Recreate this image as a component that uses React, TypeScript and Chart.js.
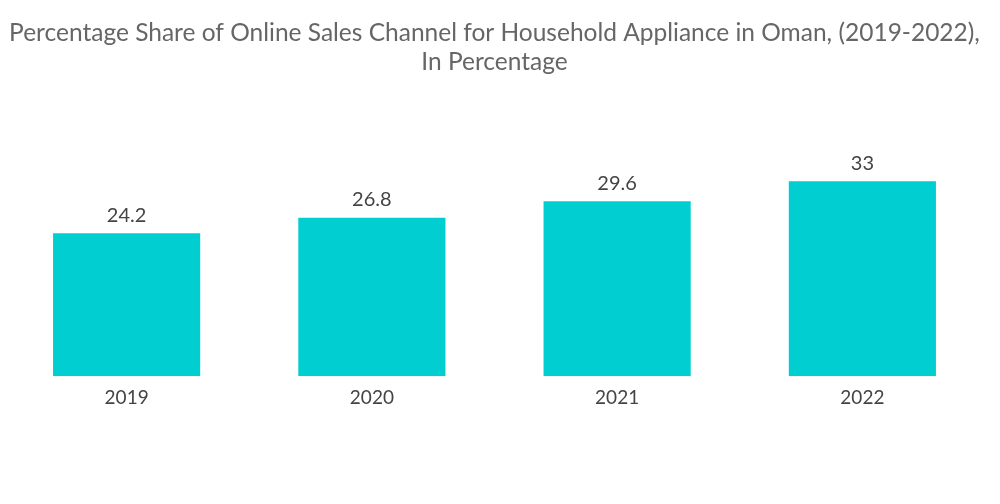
import React, { useEffect, useRef } from "react";
import { Chart, registerables } from "chart.js";

Chart.register(...registerables);

const categories = ["2019", "2020", "2021", "2022"];
const shareValues = [24.2, 26.8, 29.6, 33];
const valueLabels = ["24.2", "26.8", "29.6", "33"];
const titleLines = [
  "Percentage Share of Online Sales Channel for Household Appliance in Oman, (2019-2022),",
  "In Percentage",
];

const barLabelPlugin = {
  id: "barLabels",
  afterDatasetsDraw(chart: any) {
    const { ctx } = chart;
    const meta = chart.getDatasetMeta(0);
    ctx.save();
    ctx.font = "20px Lato";
    ctx.fillStyle = "#444444";
    ctx.textAlign = "center";
    ctx.textBaseline = "bottom";
    meta.data.forEach((bar: any, i: number) => {
      ctx.fillText(valueLabels[i], bar.x, bar.y - 8);
    });
    ctx.restore();
  },
};

export default function App() {
  const ref = useRef<HTMLCanvasElement | null>(null);
  useEffect(() => {
    if (!ref.current) return;
    const chart = new Chart(ref.current, {
      type: "bar",
      data: {
        labels: categories,
        datasets: [
          {
            data: shareValues,
            backgroundColor: "#00CED1",
            borderWidth: 0,
            categoryPercentage: 0.6,
            barPercentage: 1,
          },
        ],
      },
      options: {
        animation: false,
        responsive: false,
        maintainAspectRatio: false,
        layout: { padding: { left: 4, right: 15, top: 0, bottom: 85 } },
        plugins: {
          legend: { display: false },
          tooltip: { enabled: false },
          title: {
            display: true,
            text: titleLines,
            color: "#666666",
            font: { family: "Lato", size: 24.5, weight: "normal", lineHeight: 1.18 },
            padding: { top: 18.5, bottom: 63.5 },
          },
        },
        scales: {
          x: {
            grid: { display: false, drawTicks: false },
            border: { display: false },
            ticks: {
              color: "#444444",
              font: { family: "Lato", size: 19 },
              padding: 10,
            },
          },
          y: {
            display: false,
            min: 0,
            max: 40,
          },
        },
      },
      plugins: [barLabelPlugin],
    });
    return () => chart.destroy();
  }, []);
  return (
    <div style={{ position: "fixed", left: 0, top: 0, width: 1000, height: 504, background: "#fff" }}>
      <canvas ref={ref} width={1000} height={504} style={{ width: 1000, height: 504 }} />
    </div>
  );
}
